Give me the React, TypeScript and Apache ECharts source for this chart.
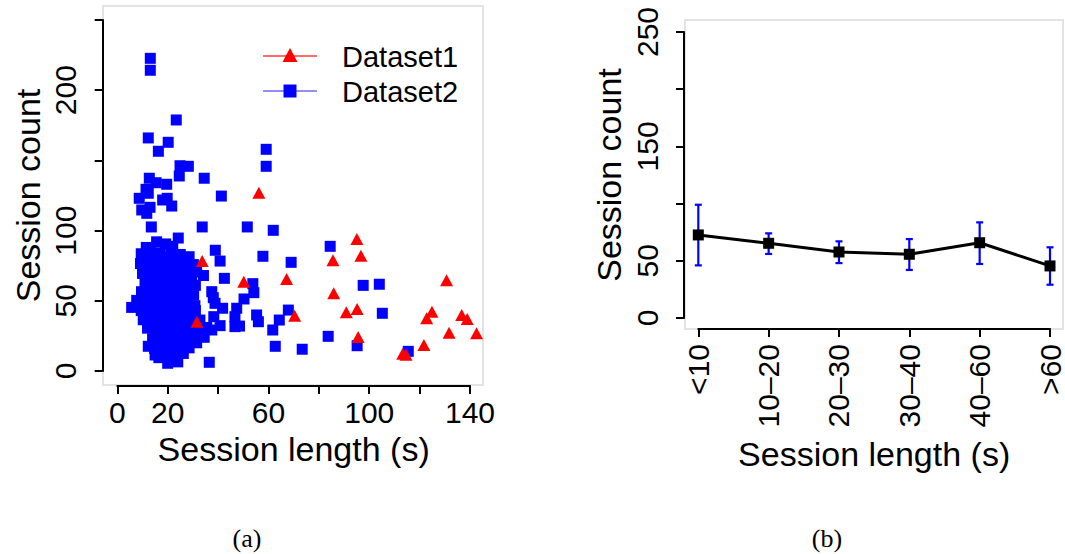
import React, { useEffect, useRef } from 'react';
import * as echarts from 'echarts';

// ---------- Data ----------
// Panel (a): scatter of [session length (s), session count]
const dataset1Points: number[][] = [
  [56.2, 127], [33.7, 78.3], [50.2, 63.6], [67.2, 65.6], [31.6, 35.1],
  [95.1, 94], [96.7, 82.1], [85.6, 78.8], [85.9, 55.3], [130.7, 64.6],
  [70.4, 39.4], [90.9, 41.8], [95.2, 44.2], [124.9, 42.2], [122.8, 37.5],
  [136.7, 39.9], [138.9, 37], [131.7, 27.3], [142.6, 26.9], [95.6, 24.2],
  [121.7, 18.5], [113.3, 12.3], [114.6, 11.6],
];

const dataset2Sparse: number[][] = [
  [13.1, 222.7], [13.1, 214.2], [23.4, 178.8], [12.3, 166], [20.2, 162.9],
  [16.3, 156.5], [59.1, 157.9], [59.1, 145.8], [24.9, 146.2], [28.2, 145.8],
  [24.6, 138.9], [34.5, 137.3], [12.7, 137.3], [15.4, 134.1], [19.6, 133],
  [11.4, 129.4], [12.3, 126.6], [41.3, 124.6], [8.7, 123], [19.8, 123],
  [18, 121.8], [13, 116.6], [21.6, 117.5], [9.7, 114.7], [11.7, 112.3],
  [13.5, 102.6], [33.7, 102.6], [51.6, 102.6], [61.9, 100.2], [24.2, 94.7],
  [38.9, 86], [40.8, 78.3], [57.8, 81.7], [69, 77.4], [42.5, 66],
  [53.8, 62.2], [54.2, 55.8], [50.3, 51.3], [37.5, 56.5], [38.1, 52.2],
  [38.8, 48.2], [41.8, 44.7], [47.4, 44.7], [46.7, 38.7], [55.3, 39.9],
  [56, 35.1], [67.9, 43.4], [64.3, 36.3], [61.7, 29.2], [62.7, 17.6],
  [38.3, 38.7], [40.8, 32.3], [46.7, 31.6], [48.5, 32], [36.5, 6.2],
  [37.5, 29.2], [84.5, 88.8], [97.6, 61], [104, 61.8], [105.2, 41.1],
  [83.7, 24.7], [95.2, 18], [73.4, 15.5], [115.5, 14], [34.2, 68],
];

const dataset2Cluster: number[][] = [
  [15.6, 92], [19.2, 90.5], [22, 88.8],
  [9.5, 83.5], [13.2, 85], [17, 84.2], [21.3, 85.5], [25, 83], [28.5, 81.4],
  [9.2, 76.5], [12.6, 78], [16.2, 77], [20, 79], [23.6, 76], [27, 77.5], [30.2, 75.8],
  [10, 69.5], [13.5, 71.5], [17.6, 70], [21, 72.5], [24.5, 69], [28, 71], [31.5, 70.5],
  [11, 63.5], [14.4, 64.5], [18, 62.5], [22, 65], [25.5, 62], [29, 64], [31, 61],
  [9.6, 56.5], [13, 58], [16.5, 56], [20, 57.5], [23.4, 55], [27, 57], [30.3, 54],
  [7.7, 50.3], [11, 49], [14.5, 51], [18, 49.5], [21.5, 52], [25, 50], [28.5, 48.5], [30.8, 46.5],
  [5.7, 45.3], [9.5, 43], [13, 44.5], [17, 42], [20.5, 45], [24, 43.5], [27.5, 41.5], [31, 43],
  [10.3, 36.5], [13.6, 38], [17, 35.5], [20.5, 37.5], [24, 36], [28, 34.5], [32.8, 36.3],
  [12, 30.5], [15.5, 29], [19, 31], [22.5, 28.5], [26, 30], [29.5, 27.5], [32.8, 28.9], [35.5, 31],
  [14, 23], [17.5, 22], [21, 24], [24.5, 21.5], [28, 23.5], [31.5, 20.1], [34.5, 24],
  [14.8, 16], [18, 15], [21.5, 17], [25, 14.5], [28.5, 16.5], [12.3, 17.6],
  [16.5, 9.5], [19.5, 10.5], [21.6, 7.5], [23, 9], [26.2, 12.5], [15, 11.4],
  [11.5, 88], [15, 80.5], [18.5, 81], [22.5, 81.5], [26, 79.5],
  [11.5, 73], [15.5, 74], [19.5, 75], [23, 72.5], [26.5, 73.5], [29.5, 67],
  [12.5, 67], [16, 67.5], [20, 68], [23.5, 66], [27, 66.5],
  [12, 60.5], [15.5, 61], [20, 61], [24, 59.5], [28, 60],
  [11, 53], [15, 54], [19, 53.5], [23, 52.5], [27, 53],
  [8.5, 47], [12, 47.5], [16, 46.5], [19, 46], [22.5, 47.5], [26, 46], [29.5, 45.5],
  [11.5, 40], [15.5, 41], [19, 40.5], [22.5, 40], [26, 39.5], [30, 38.5],
  [14, 33.5], [18, 34], [22, 33.5], [26, 33], [30.5, 32.5],
  [16, 26.5], [20, 27], [24, 26], [28, 27], [31.5, 25],
  [17, 19], [20, 20], [23, 18.5], [27, 19.5], [18, 12.5], [22.5, 13], [20, 5.5], [24, 6.5],
];

const scatterXShownLabels = [0, 20, 60, 100, 140];
const scatterYShownLabels = [0, 50, 100, 200];

// Panel (b): session count per session-length bin, with error bars
const binCategories = ['<10', '10\u201320', '20\u201330', '30\u201340', '40\u201360', '>60'];
const binMeans = [72.6, 65.3, 57.7, 55.7, 65.8, 45.5];
const binLow = [46, 56, 48, 42, 47.2, 29.1];
const binHigh = [99, 74, 67, 69, 83.6, 61.8];
const lineYShownLabels = [0, 50, 150, 250];

const FONT = '"Liberation Sans", Arial, Helvetica, sans-serif';
const SERIF = '"Liberation Serif", "Times New Roman", serif';

export default function App() {
  const ref = useRef<HTMLDivElement>(null);

  useEffect(() => {
    if (!ref.current) return;
    const chart = echarts.init(ref.current, undefined, { renderer: 'svg' });

    const axisCommon = {
      axisLine: { show: true, onZero: false, lineStyle: { color: '#000', width: 2 } },
      axisTick: { show: true, length: 8, lineStyle: { color: '#000', width: 2 } },
      splitLine: { show: false },
      nameLocation: 'middle' as const,
      nameTextStyle: { fontSize: 34, color: '#000', fontFamily: FONT },
    };
    const labelCommon = { fontSize: 30, color: '#000', fontFamily: FONT };

    const errorBars = binCategories.map((_, i) => [i, binLow[i], binHigh[i]]);

    chart.setOption({
      animation: false,
      textStyle: { fontFamily: FONT },
      grid: [
        { left: 103, top: 6, width: 380, height: 379, show: true, borderColor: '#e3e3e3', borderWidth: 2 },
        { left: 117.3, top: 20, width: 352.7, height: 351 },
        { left: 685, top: 20, width: 378, height: 309, show: true, borderColor: '#e3e3e3', borderWidth: 2 },
        { left: 698.3, top: 32, width: 351.7, height: 286 },
      ],
      xAxis: [
        { gridIndex: 0, type: 'value', show: false, min: 0, max: 1 },
        {
          ...axisCommon,
          gridIndex: 1, type: 'value', min: 0, max: 140, interval: 20, position: 'bottom', offset: 15,
          axisLabel: {
            ...labelCommon, margin: 11,
            formatter: (v: number) => (scatterXShownLabels.includes(v) ? String(v) : ''),
          },
          name: 'Session length (s)', nameGap: 41,
        },
        { gridIndex: 2, type: 'value', show: false, min: 0, max: 1 },
        {
          ...axisCommon,
          gridIndex: 3, type: 'category', data: binCategories, boundaryGap: false, position: 'bottom', offset: 11,
          axisTick: { ...axisCommon.axisTick, alignWithLabel: true, interval: 0 },
          axisLabel: { ...labelCommon, rotate: 90, margin: 15, interval: 0 },
          name: 'Session length (s)', nameGap: 108,
        },
      ],
      yAxis: [
        { gridIndex: 0, type: 'value', show: false, min: 0, max: 1 },
        {
          ...axisCommon,
          gridIndex: 1, type: 'value', min: 0, max: 250, interval: 50, position: 'left', offset: 14.6,
          axisLabel: {
            ...labelCommon, rotate: 90, margin: 22,
            formatter: (v: number) => (scatterYShownLabels.includes(v) ? String(v) : ''),
          },
          name: 'Session count', nameGap: 58,
        },
        { gridIndex: 2, type: 'value', show: false, min: 0, max: 1 },
        {
          ...axisCommon,
          gridIndex: 3, type: 'value', min: 0, max: 250, interval: 50, position: 'left', offset: 14.3,
          axisLabel: {
            ...labelCommon, rotate: 90, margin: 22,
            formatter: (v: number) => (lineYShownLabels.includes(v) ? String(v) : ''),
          },
          name: 'Session count', nameGap: 58,
        },
      ],
      series: [
        {
          type: 'scatter', name: 'Dataset2', xAxisIndex: 1, yAxisIndex: 1,
          data: [...dataset2Sparse, ...dataset2Cluster],
          symbol: 'rect', symbolSize: 11, itemStyle: { color: '#0000ff', opacity: 1 }, clip: false, silent: true,
        },
        {
          type: 'scatter', name: 'Dataset1', xAxisIndex: 1, yAxisIndex: 1,
          data: dataset1Points,
          symbol: 'triangle', symbolSize: [13, 12], itemStyle: { color: '#ff0000', opacity: 1 }, clip: false, silent: true,
        },
        {
          type: 'custom', xAxisIndex: 3, yAxisIndex: 3, data: errorBars, silent: true, z: 2,
          renderItem: (_params: any, api: any) => {
            const x = api.value(0);
            const top = api.coord([x, api.value(2)]);
            const bot = api.coord([x, api.value(1)]);
            const style = { stroke: '#0000ff', lineWidth: 2.2 };
            const hw = 3.5;
            return {
              type: 'group',
              children: [
                { type: 'line', shape: { x1: top[0], y1: top[1], x2: bot[0], y2: bot[1] }, style },
                { type: 'line', shape: { x1: top[0] - hw, y1: top[1], x2: top[0] + hw, y2: top[1] }, style },
                { type: 'line', shape: { x1: bot[0] - hw, y1: bot[1], x2: bot[0] + hw, y2: bot[1] }, style },
              ],
            };
          },
        },
        {
          type: 'line', xAxisIndex: 3, yAxisIndex: 3, data: binMeans, z: 3, silent: true,
          symbol: 'rect', symbolSize: 11, showSymbol: true,
          lineStyle: { color: '#000', width: 3 }, itemStyle: { color: '#000', opacity: 1 },
        },
      ],
      graphic: [
        { type: 'line', shape: { x1: 263, y1: 56, x2: 317, y2: 56 }, style: { stroke: '#ff3b3b', lineWidth: 1.5 } },
        { type: 'polygon', shape: { points: [[290, 48], [297.5, 62], [282.5, 62]] }, style: { fill: '#ff0000' } },
        { type: 'text', x: 342, y: 57, style: { text: 'Dataset1', font: `29px ${FONT}`, fill: '#000', verticalAlign: 'middle' } },
        { type: 'line', shape: { x1: 263, y1: 91, x2: 317, y2: 91 }, style: { stroke: '#6a6aff', lineWidth: 1.5 } },
        { type: 'rect', shape: { x: 283.5, y: 84.5, width: 13, height: 13 }, style: { fill: '#0000ff' } },
        { type: 'text', x: 342, y: 92, style: { text: 'Dataset2', font: `29px ${FONT}`, fill: '#000', verticalAlign: 'middle' } },
        { type: 'text', x: 247, y: 538, style: { text: '(a)', font: `26px ${SERIF}`, fill: '#000', align: 'center', verticalAlign: 'middle' } },
        { type: 'text', x: 827, y: 538, style: { text: '(b)', font: `26px ${SERIF}`, fill: '#000', align: 'center', verticalAlign: 'middle' } },
      ],
    });

    return () => chart.dispose();
  }, []);

  return (
    <div
      ref={ref}
      style={{ position: 'absolute', left: 0, top: 0, width: 1065, height: 554, background: '#fff' }}
    />
  );
}
